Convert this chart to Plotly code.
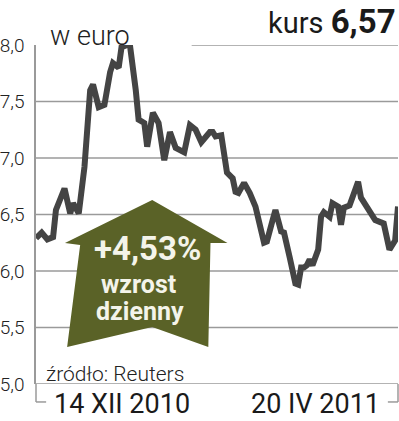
import plotly.graph_objects as go

# day offsets since 14 XII 2010
days = [0, 2, 4, 6, 7, 10, 12, 13, 15, 17, 19, 20, 22, 24, 26, 27, 29, 30, 32, 33,
        35, 36, 38, 39, 41, 43, 45, 47, 49, 52, 54, 56, 58, 61, 62, 63, 65, 66, 67, 69,
        70, 71, 73, 75, 77, 80, 81, 83, 84, 86, 87, 89, 91, 92, 93, 94, 95, 96, 97, 99,
        100, 101, 103, 104, 106, 107, 108, 110, 113, 114, 117, 119, 121, 122, 124, 126, 127]
price = [6.29, 6.34, 6.28, 6.30, 6.54, 6.73, 6.51, 6.60, 6.51, 6.92, 7.60, 7.65, 7.45, 7.47,
         7.76, 7.84, 7.80, 7.98, 8.00, 7.99, 7.60, 7.34, 7.31, 7.10, 7.40, 7.31, 6.98, 7.23,
         7.09, 7.05, 7.29, 7.25, 7.14, 7.23, 7.23, 7.19, 7.20, 7.05, 6.87, 6.82, 6.70, 6.69,
         6.78, 6.69, 6.57, 6.25, 6.26, 6.45, 6.54, 6.35, 6.34, 6.12, 5.89, 5.88, 6.03, 6.03,
         6.05, 6.10, 6.05, 6.19, 6.48, 6.52, 6.48, 6.60, 6.57, 6.41, 6.56, 6.58, 6.79, 6.65,
         6.54, 6.45, 6.43, 6.42, 6.19, 6.27, 6.57]

tick_vals = [5.0, 5.5, 6.0, 6.5, 7.0, 7.5, 8.0]
tick_text = ["5,0", "5,5", "6,0", "6,5", "7,0", "7,5", "8,0"]
start_label = "14 XII 2010"
end_label = "20 IV 2011"
unit_label = "w euro"
source_label = "źródło: Reuters"
last_price = "6,57"
change_text = "+4,53%"

GRID = "#9a9a9a"
OLIVE = "#5a6227"

fig = go.Figure()
fig.add_trace(go.Scatter(x=days, y=price, mode="lines",
                         line=dict(color="#444444", width=6, shape="linear"),
                         hoverinfo="skip"))

shapes = []
for v in tick_vals:
    x0 = 0.43 if v == 8.0 else 0.0
    shapes.append(dict(type="line", xref="paper", yref="y", x0=x0, x1=1, y0=v, y1=v,
                       line=dict(color=GRID, width=1.5), layer="below"))
# brackets under axis
by = -0.053
shapes += [
    dict(type="line", xref="paper", yref="paper", x0=0, x1=0, y0=0, y1=by, line=dict(color=GRID, width=1.5)),
    dict(type="line", xref="paper", yref="paper", x0=0, x1=0.028, y0=by, y1=by, line=dict(color=GRID, width=1.5)),
    dict(type="line", xref="paper", yref="paper", x0=1, x1=1, y0=0, y1=by, line=dict(color=GRID, width=1.5)),
    dict(type="line", xref="paper", yref="paper", x0=0.972, x1=1, y0=by, y1=by, line=dict(color=GRID, width=1.5)),
]
# up arrow
arrow = [(0.321, 0.543), (0.529, 0.416), (0.482, 0.416), (0.476, 0.109), (0.321, 0.168),
         (0.086, 0.109), (0.122, 0.410), (0.080, 0.416)]
path = "M " + " L ".join(f"{x},{y}" for x, y in arrow) + " Z"
shapes.append(dict(type="path", xref="paper", yref="paper", path=path,
                   fillcolor=OLIVE, line=dict(width=0), layer="above"))

annotations = [
    dict(text=unit_label, xref="paper", yref="paper", x=0.033, y=1.027, xanchor="left", yanchor="middle",
         showarrow=False, font=dict(family="Roboto", size=27, color="#222222", weight=300)),
    dict(text=f"kurs <span style='font-size:33px;font-weight:700'>{last_price}</span>",
         xref="paper", yref="paper", x=1.0, y=1.068,
         xanchor="right", yanchor="middle", showarrow=False,
         font=dict(family="Roboto", size=29, color="#1a1a1a")),
    dict(text=change_text, xref="paper", yref="paper", x=0.308, y=0.400, xanchor="center", yanchor="middle",
         showarrow=False, font=dict(family="Roboto", size=33, color="#f4f4ea", weight=700)),
    dict(text="wzrost", xref="paper", yref="paper", x=0.283, y=0.294, xanchor="center", yanchor="middle",
         showarrow=False, font=dict(family="Roboto", size=25, color="#f4f4ea", weight=700)),
    dict(text="dzienny", xref="paper", yref="paper", x=0.288, y=0.215, xanchor="center", yanchor="middle",
         showarrow=False, font=dict(family="Roboto", size=25, color="#f4f4ea", weight=700)),
    dict(text=source_label, xref="paper", yref="paper", x=0.219, y=0.030, xanchor="center", yanchor="middle",
         showarrow=False, font=dict(family="Roboto", size=21, color="#222222", weight=300)),
    dict(text=start_label, xref="paper", yref="paper", x=0.238, y=-0.06, xanchor="center", yanchor="middle",
         showarrow=False, font=dict(family="Roboto", size=27, color="#1a1a1a")),
    dict(text=end_label, xref="paper", yref="paper", x=0.772, y=-0.06, xanchor="center", yanchor="middle",
         showarrow=False, font=dict(family="Roboto", size=27, color="#1a1a1a")),
]

fig.update_layout(
    width=399, height=421,
    margin=dict(l=36, r=1, t=45, b=37),
    paper_bgcolor="white", plot_bgcolor="white",
    showlegend=False,
    shapes=shapes,
    annotations=annotations,
    xaxis=dict(range=[0, 127], showgrid=False, zeroline=False, showticklabels=False, ticks="",
               showline=False, fixedrange=True),
    yaxis=dict(range=[5.0, 8.0], tickvals=tick_vals, ticktext=tick_text, showgrid=False, zeroline=False,
               ticks="", ticklabelstandoff=6, showline=True, linecolor=GRID, linewidth=1.5,
               tickfont=dict(family="Roboto", size=19, color="#222222", weight=300), fixedrange=True),
)

fig.write_html("out.html", config={"displayModeBar": False})
